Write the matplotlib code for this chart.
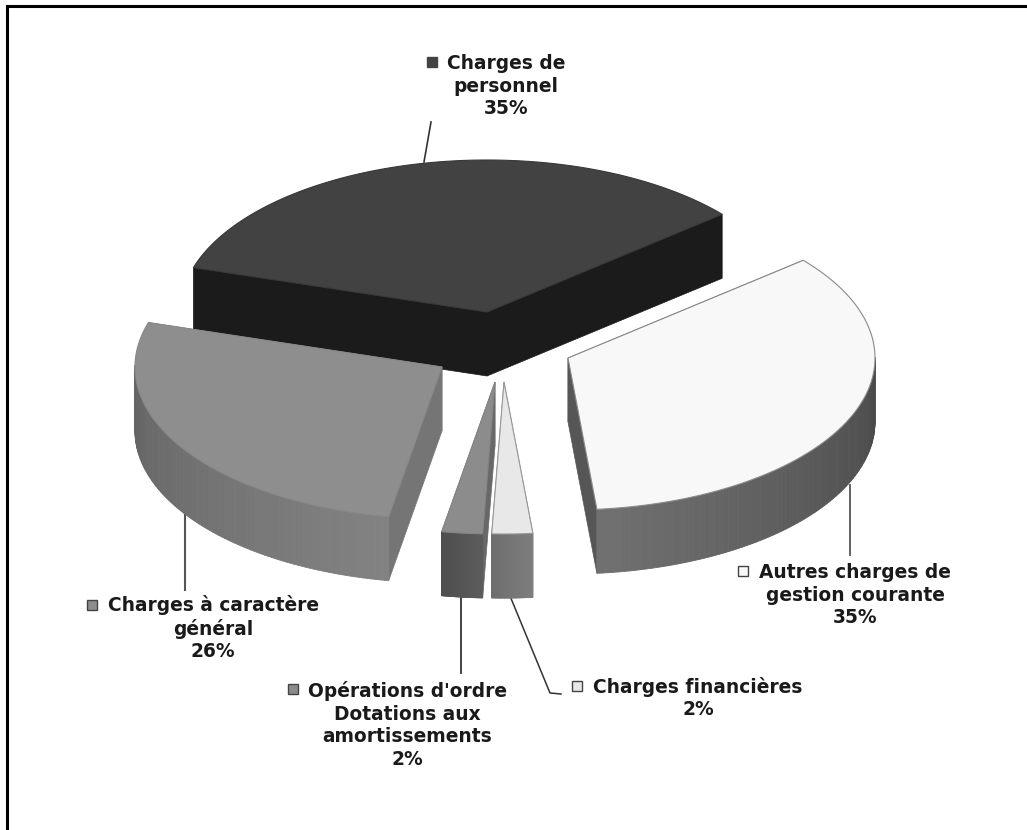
import numpy as np
import matplotlib
matplotlib.use("Agg")
import matplotlib.pyplot as plt
from matplotlib.collections import PolyCollection
from matplotlib.patches import Polygon, Rectangle

categories = ["Charges de\npersonnel", "Autres charges de\ngestion courante",
              "Opérations d'ordre\nDotations aux\namortissements",
              "Charges financières", "Charges à caractère\ngénéral"]
# clockwise from the start angle
slice_names = ["personnel", "autres", "financieres", "ordre", "general"]
shares = [35, 35, 2, 2, 26]

start_angle = 166.4
rx, ry = 307, 152
depth = 64

# the 3d view squeezes some angles a little
view_in = [-193.6, -100, -85.6, 40.4, 166.4]
view_out = [-197, -100, -84.6, 40, 163]

# tip of each exploded slice, in pixels
tips = {"personnel": (487, 312), "autres": (568, 358), "financieres": (504, 382),
        "ordre": (495, 382), "general": (442, 367)}
top_col = {"personnel": "#424242", "autres": "#f8f8f8", "financieres": "#e8e8e8",
           "ordre": "#8c8c8c", "general": "#8e8e8e"}
cut_col = {"personnel": "#1b1b1b", "autres": "#565656", "financieres": "#777777",
           "ordre": "#686868", "general": "#757575"}
wall_from = {"personnel": "#1b1b1b", "autres": "#707070", "financieres": "#7e7e7e",
             "ordre": "#5c5c5c", "general": "#828282"}
wall_to = {"personnel": "#1b1b1b", "autres": "#484848", "financieres": "#6e6e6e",
           "ordre": "#4e4e4e", "general": "#636363"}
edge_col = {"personnel": "#383838", "autres": "#8a8a8a", "financieres": "#999999",
            "ordre": "#848484", "general": "#888888"}


def shade(a, b, t):
    a = np.array(matplotlib.colors.to_rgb(a))
    b = np.array(matplotlib.colors.to_rgb(b))
    return a + (b - a) * t


fig = plt.figure(figsize=(10.27, 8.30), dpi=100)
ax = fig.add_axes([0, 0, 1, 1])
ax.set_xlim(0, 1027)
ax.set_ylim(830, 0)
ax.axis("off")

# frame, only left and top in the picture
ax.plot([6.5, 6.5, 1027], [830, 6.5, 6.5], color="black", lw=2.2, solid_joinstyle="miter")

# leader lines
ax.plot([431, 424], [122, 162], color="#333333", lw=1.2)
ax.plot([185, 185], [505, 590], color="#555555", lw=1.5)
ax.plot([850, 850], [485, 555], color="#555555", lw=1.3)
ax.plot([461, 461], [596, 673], color="#333333", lw=1.3)
ax.plot([510, 550, 561], [596, 693, 694], color="#333333", lw=1.1)

ends = start_angle - np.cumsum(shares) * 3.6
starts = np.r_[start_angle, ends[:-1]]

for name in ["personnel", "autres", "general", "financieres", "ordre"]:
    i = slice_names.index(name)
    cx, cy = tips[name]
    t = np.linspace(starts[i], ends[i], 120)
    t = np.radians(np.interp(t, view_in, view_out))
    xs = cx + rx * np.cos(t)
    ys = cy - ry * np.sin(t)

    # cut faces
    for ex, ey in [(xs[0], ys[0]), (xs[-1], ys[-1])]:
        ax.add_patch(Polygon([(cx, cy), (ex, ey), (ex, ey + depth), (cx, cy + depth)],
                             fc=cut_col[name], ec=cut_col[name], lw=0.5, zorder=2))

    # outer wall, shaded along the arc
    polys, cols = [], []
    front = np.where(np.sin(t) < 0.02)[0]
    for k, j in enumerate(front[:-1]):
        polys.append([(xs[j], ys[j]), (xs[j + 1], ys[j + 1]),
                      (xs[j + 1], ys[j + 1] + depth), (xs[j], ys[j] + depth)])
        cols.append(shade(wall_from[name], wall_to[name], k / max(len(front) - 2, 1)))
    if name == "autres":
        cols = cols[::-1]
    if polys:
        ax.add_collection(PolyCollection(polys, facecolors=cols, edgecolors=cols,
                                         linewidths=0.6, zorder=3))

    # top surface
    ax.add_patch(Polygon(np.c_[np.r_[cx, xs], np.r_[cy, ys]], closed=True,
                         fc=top_col[name], ec=edge_col[name], lw=0.8, zorder=4))

# labels
label_font = dict(family="DejaVu Sans", fontweight="bold", fontsize=13.4, color="#1a1a1a",
                  ha="center", va="center", linespacing=1.24, zorder=6)
ax.text(506, 86, categories[0] + "\n%d%%" % shares[0], **label_font)
ax.text(855, 595, categories[1] + "\n%d%%" % shares[1], **label_font)
ax.text(407, 725, categories[2] + "\n%d%%" % shares[3], **label_font)
ax.text(698, 698, categories[3] + "\n%d%%" % shares[2], **label_font)
ax.text(213, 628, categories[4] + "\n%d%%" % shares[4], **label_font)

# legend keys next to the labels
key_pos = [(432, 62, "personnel"), (743, 571, "autres"), (293, 689, "ordre"),
           (577, 686, "financieres"), (92, 605, "general")]
for kx, ky, name in key_pos:
    ax.add_patch(Rectangle((kx - 5, ky - 5), 10, 10, fc=top_col[name], ec="#444444", lw=1.0, zorder=6))

fig.savefig("out.png", dpi=100, facecolor="white")
